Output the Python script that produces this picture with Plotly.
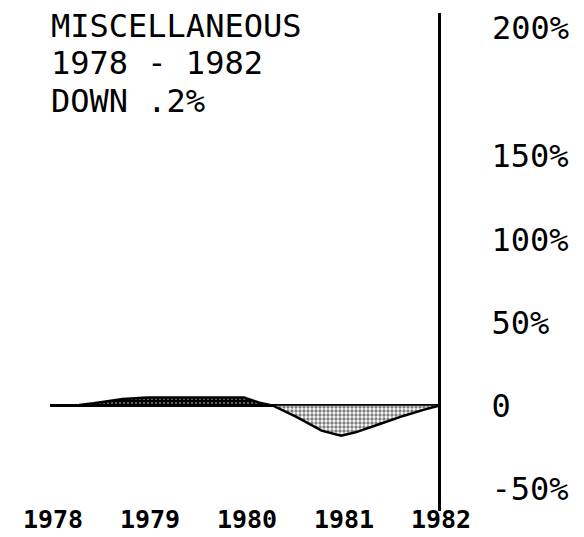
import plotly.graph_objects as go

# Data
years = [1978.0, 1978.3, 1978.45, 1978.75, 1979.0, 1979.5, 1980.0, 1980.15, 1980.3,
         1980.55, 1980.8, 1981.0, 1981.15, 1981.4, 1981.65, 1981.85, 1982.0]
pct_change = [0, 0.5, 1.5, 4, 5, 5, 5, 2, 0,
              -7, -15, -18, -16, -11, -6, -2.5, -0.2]
x_tick_years = [1978, 1979, 1980, 1981, 1982]
x_tick_labels = ["1978", "1979", "1980", "1981", "1982"]
y_tick_values = [-50, 0, 50, 100, 150]
y_tick_labels = ["-50%", "0", "50%", "100%", "150%"]
y_top_label = "200%"
title_lines = ["MISCELLANEOUS", "1978 - 1982", "DOWN .2%"]

FONT = "DejaVu Sans Mono"

pos = [max(v, 0) for v in pct_change]
neg = [min(v, 0) for v in pct_change]

fig = go.Figure()
fig.add_trace(go.Scatter(
    x=years, y=pos, mode="lines", fill="tozeroy",
    line=dict(color="black", width=2.5),
    fillcolor="black",
    fillpattern=dict(shape=".", fgcolor="white", bgcolor="black", size=4, solidity=0.2),
    hoverinfo="skip", showlegend=False,
))
fig.add_trace(go.Scatter(
    x=years, y=neg, mode="lines", fill="tozeroy",
    line=dict(color="black", width=2.5),
    fillcolor="white",
    fillpattern=dict(shape=".", fgcolor="black", bgcolor="white", size=4, solidity=0.55),
    hoverinfo="skip", showlegend=False,
))

fig.update_layout(
    width=584, height=537,
    margin=dict(l=50, r=146, t=13, b=26),
    paper_bgcolor="white", plot_bgcolor="white",
    font=dict(family=FONT, color="black"),
    showlegend=False,
    xaxis=dict(
        range=[1978, 1982], tickvals=x_tick_years, ticktext=x_tick_labels,
        showgrid=False, zeroline=False, showline=False, ticks="",
        tickfont=dict(family=FONT, size=25, weight="bold"),
        ticklabelshift=3, ticklabelstandoff=0, automargin=False,
        anchor="free", position=0.018,
    ),
    yaxis=dict(
        range=[-63.3, 236.1], side="right",
        tickvals=y_tick_values, ticktext=y_tick_labels,
        showgrid=False, zeroline=True, zerolinecolor="black", zerolinewidth=3,
        showline=True, linecolor="black", linewidth=3, ticks="",
        tickfont=dict(family=FONT, size=32),
        ticklabelstandoff=44, automargin=False,
    ),
)

title_y = [0.973, 0.900, 0.824]
for txt, yy in zip(title_lines, title_y):
    fig.add_annotation(text=txt, xref="paper", yref="paper", x=-0.002, y=yy,
                       xanchor="left", yanchor="middle", showarrow=False,
                       font=dict(family=FONT, size=32, color="black"))

fig.add_annotation(text=y_top_label, xref="paper", yref="paper", x=(490 - 50) / 388, y=0.97,
                   xanchor="left", yanchor="middle", showarrow=False,
                   font=dict(family=FONT, size=32, color="black"))

fig.write_html("out.html", config={"displayModeBar": False},
               post_script="document.body.style.margin='0';")
